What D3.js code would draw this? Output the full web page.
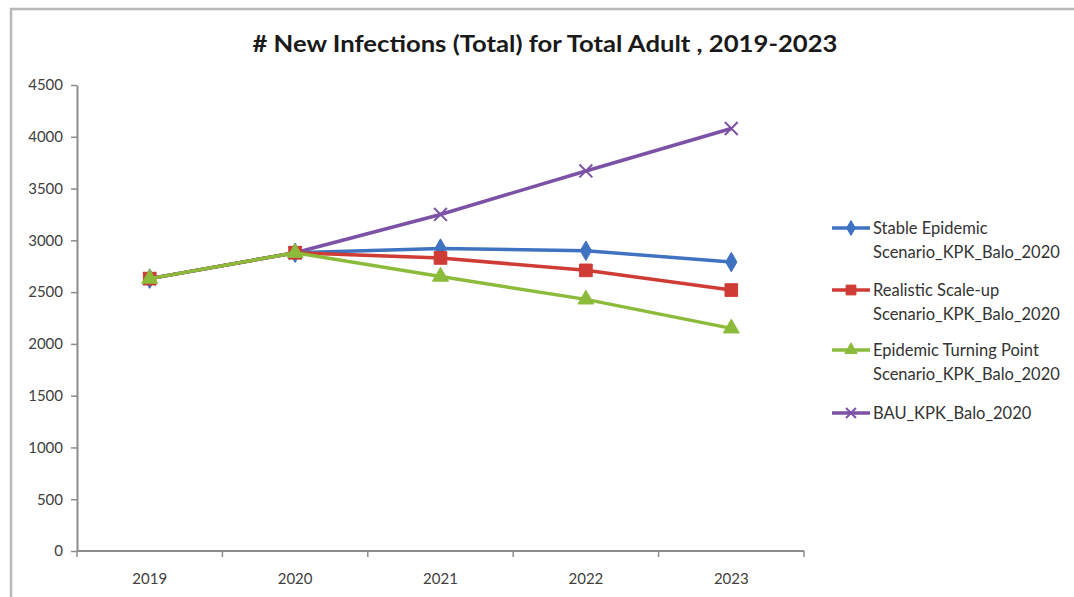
<!DOCTYPE html>
<html>
<head>
<meta charset="utf-8">
<script src="https://cdn.jsdelivr.net/npm/d3@7"></script>
<style>
  body { margin: 0; background: #fff; }
  svg text { font-family: Lato, "Open Sans", sans-serif; }
</style>
</head>
<body>
<div id="chart"></div>
<script>
// data
var years = ["2019", "2020", "2021", "2022", "2023"];
var stableEpidemic = [2630, 2880, 2920, 2900, 2790];
var realisticScaleUp = [2630, 2880, 2830, 2710, 2520];
var turningPoint = [2630, 2880, 2650, 2430, 2150];
var bau = [2630, 2880, 3250, 3670, 4080];
var seriesNames = [
  ["Stable Epidemic", "Scenario_KPK_Balo_2020"],
  ["Realistic Scale-up", "Scenario_KPK_Balo_2020"],
  ["Epidemic Turning Point", "Scenario_KPK_Balo_2020"],
  ["BAU_KPK_Balo_2020"]
];
var yTicks = [0, 500, 1000, 1500, 2000, 2500, 3000, 3500, 4000, 4500];

var svgWidth = 1074;
var svgHeight = 597;
var margin = { top: 85, left: 77, right: 270, bottom: 46 };
var chartWidth = svgWidth - margin.left - margin.right;
var chartHeight = svgHeight - margin.top - margin.bottom;

var svg = d3.select("#chart")
  .append("svg")
  .attr("width", svgWidth)
  .attr("height", svgHeight);

// frame of the pasted chart
svg.append("path")
  .attr("d", "M11,597 L11,9 L1074,9")
  .attr("fill", "none")
  .attr("stroke", "#b8b8b8")
  .attr("stroke-width", 2.5);

svg.append("text")
  .attr("x", 545)
  .attr("y", 52)
  .attr("text-anchor", "middle")
  .attr("font-size", 23)
  .attr("font-weight", "bold")
  .attr("fill", "#1a1a1a")
  .attr("textLength", 585)
  .attr("lengthAdjust", "spacingAndGlyphs")
  .text("# New Infections (Total) for Total Adult , 2019-2023");

var chartGroup = svg.append("g")
  .attr("transform", "translate(" + margin.left + "," + margin.top + ")");

var xScale = d3.scaleBand().domain(years).range([0, chartWidth]);
var yScale = d3.scaleLinear().domain([0, 4500]).range([chartHeight, 0]);

var leftAxis = d3.axisLeft(yScale).tickValues(yTicks).tickFormat(d3.format("d"))
  .tickSize(6).tickPadding(8).tickSizeOuter(0);
var yAxis = chartGroup.append("g").call(leftAxis);
yAxis.select(".domain").attr("stroke", "#8c8c8c").attr("stroke-width", 2);
yAxis.selectAll(".tick line").attr("stroke", "#8c8c8c").attr("stroke-width", 1.5);
yAxis.selectAll("text").attr("font-size", 15).attr("fill", "#404040");

// x axis: baseline, ticks between the categories
var xAxis = chartGroup.append("g").attr("transform", "translate(0," + chartHeight + ")");
xAxis.append("line")
  .attr("x1", 0).attr("x2", chartWidth)
  .attr("stroke", "#8c8c8c").attr("stroke-width", 2);
xAxis.selectAll(".xtick")
  .data(years.concat(["end"]))
  .enter()
  .append("line")
  .attr("x1", function (d, i) { return i * xScale.bandwidth(); })
  .attr("x2", function (d, i) { return i * xScale.bandwidth(); })
  .attr("y1", 0).attr("y2", 6)
  .attr("stroke", "#8c8c8c").attr("stroke-width", 1.5);
xAxis.selectAll(".xlabel")
  .data(years)
  .enter()
  .append("text")
  .attr("x", function (d) { return xScale(d) + xScale.bandwidth() / 2; })
  .attr("y", 33)
  .attr("text-anchor", "middle")
  .attr("font-size", 15)
  .attr("fill", "#404040")
  .text(function (d) { return d; });

var series = [
  { values: stableEpidemic, color: "#3f72c0", symbol: d3.symbolDiamond, size: 110 },
  { values: realisticScaleUp, color: "#cf3b35", symbol: d3.symbolSquare, size: 160 },
  { values: turningPoint, color: "#8cbb3c", symbol: d3.symbolTriangle, size: 110 },
  { values: bau, color: "#7c52a6", symbol: d3.symbolX, size: 110 }
];

var line = d3.line()
  .x(function (d, i) { return xScale(years[i]) + xScale.bandwidth() / 2; })
  .y(function (d) { return yScale(d); });

// draw BAU first so it sits under the others at the shared points
[3, 0, 1, 2].forEach(function (k) {
  var s = series[k];
  chartGroup.append("path")
    .datum(s.values)
    .attr("d", line)
    .attr("fill", "none")
    .attr("stroke", s.color)
    .attr("stroke-width", 3.5);
  chartGroup.selectAll(".m" + k)
    .data(s.values)
    .enter()
    .append("path")
    .attr("transform", function (d, i) {
      return "translate(" + (xScale(years[i]) + xScale.bandwidth() / 2) + "," + yScale(d) + ")";
    })
    .attr("d", d3.symbol().type(s.symbol).size(s.size))
    .attr("fill", s.color)
    .attr("stroke", s.color)
    .attr("stroke-width", k === 3 ? 2 : 1);
});

// legend
var legendY = [228, 290, 350, 413];
var legend = svg.append("g");
series.forEach(function (s, k) {
  var g = legend.append("g").attr("transform", "translate(832," + legendY[k] + ")");
  g.append("line").attr("x1", 0).attr("x2", 38)
    .attr("stroke", s.color).attr("stroke-width", 3.5);
  g.append("path")
    .attr("transform", "translate(19,0)")
    .attr("d", d3.symbol().type(s.symbol).size(s.size * 0.6))
    .attr("fill", s.color).attr("stroke", s.color).attr("stroke-width", k === 3 ? 2 : 1);
  seriesNames[k].forEach(function (t, j) {
    g.append("text")
      .attr("x", 41)
      .attr("y", 6 + j * 24)
      .attr("font-size", 16.5)
      .attr("fill", "#333")
      .text(t);
  });
});
</script>
</body>
</html>
